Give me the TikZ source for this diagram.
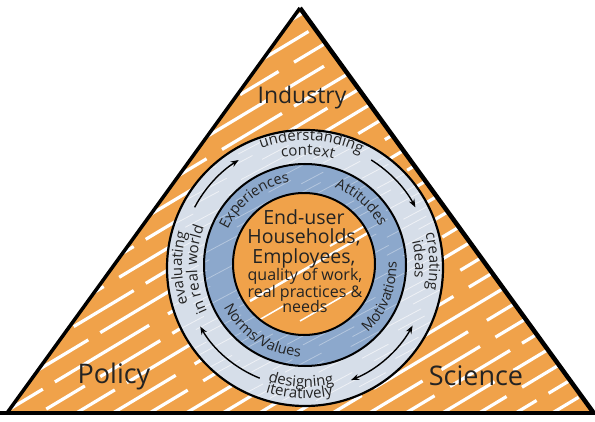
\documentclass[tikz,border=0pt]{standalone}
\usepackage{fontspec}
\setmainfont{Open Sans}
\usetikzlibrary{arrows.meta,decorations.text}
\definecolor{org}{RGB}{240,162,74}
\definecolor{lring}{RGB}{214,222,233}
\definecolor{bring}{RGB}{140,168,204}
\definecolor{txt}{RGB}{35,35,35}
\newcommand\rtf{\fontsize{15}{15}\selectfont\color{txt}}
\newcommand\btf{\fontsize{14.5}{15}\selectfont\color{txt}}
\newcommand\cwtext[5]{%
  \path[decorate,decoration={text along path,text={|#5|#4},text align=center}]
    (C) ++({#1+#3}:#2) arc[start angle={#1+#3},end angle={#1-#3},radius=#2];}
\newcommand\ccwtext[5]{%
  \path[decorate,decoration={text along path,text={|#5|#4},text align=center}]
    (C) ++({#1-#3}:#2) arc[start angle={#1-#3},end angle={#1+#3},radius=#2];}
\begin{document}
\begin{tikzpicture}[x=1pt,y=1pt,
  arr/.style={line width=1.4pt,-{Stealth[length=8pt,width=6pt]}},
  darr/.style={line width=1.4pt,{Stealth[length=8pt,width=6pt]}-{Stealth[length=8pt,width=6pt]}},
  big/.style={font=\fontsize{27}{27}\selectfont,text=txt,inner sep=0pt,anchor=base},
  ctr/.style={font=\fontsize{19.5}{20}\selectfont,text=txt,inner sep=0pt,anchor=base},
  ctrs/.style={font=\fontsize{16}{16}\selectfont,text=txt,inner sep=0pt,anchor=base}]
\useasboundingbox (0,0) rectangle (595,421);
\coordinate (C) at (305,155);
\coordinate (T) at (300,413);
\coordinate (L) at (7,8);
\coordinate (R) at (593,9);
% triangle
\fill[org] (T) -- (L) -- (R) -- cycle;
\begin{scope}
  \clip (T) -- (L) -- (R) -- cycle;
  \foreach \k in {-30,...,22} {
    \pgfmathsetmacro\ph{mod(abs(\k)*53,190)}
    \draw[white,line width=3.2pt,dash pattern=on 70pt off 14pt on 110pt off 22pt on 45pt off 18pt,dash phase=\ph pt]
      (-120,\k*22) -- ++(31:1000);
  }
\end{scope}
\draw[line width=3.5pt] (T) -- (L);
\draw[line width=4.5pt] (T) -- (R);
\draw[line width=4pt] (0,8) -- (595,8);
% labels
\node[big,font=\fontsize{23}{23}\selectfont] (ind) at (302,317) {Industry};
\node[big] (pol) at (114,38) {Policy};
\node[big] (sci) at (476,36) {Science};
% rings
\fill[lring] (305,153) circle[radius=138];
\begin{scope}
  \clip (305,153) circle[radius=138];
  \foreach \k in {-20,...,20} {
    \pgfmathsetmacro\ph{mod(abs(\k)*41,120)}
    \draw[white,opacity=0.6,line width=0.8pt,dash pattern=on 30pt off 25pt on 50pt off 40pt,dash phase=\ph pt]
      (150,\k*9+40) -- ++(28:400);
  }
\end{scope}
\fill[bring] (305,156) circle[radius=101];
\begin{scope}
  \clip (305,156) circle[radius=101];
  \foreach \k in {-14,...,14} {
    \pgfmathsetmacro\ph{mod(abs(\k)*37,110)}
    \draw[white,opacity=0.35,line width=0.8pt,dash pattern=on 25pt off 30pt on 40pt off 35pt,dash phase=\ph pt]
      (190,\k*9+70) -- ++(28:300);
  }
\end{scope}
\fill[org] (304,157) circle[radius=71];
\begin{scope}
  \clip (304,157) circle[radius=71];
  \draw[white,line width=2.5pt] (250,120) -- ++(30:160);
  \draw[white,line width=1.5pt] (300,100) -- ++(30:60);
  \draw[white,line width=2pt] (330,175) -- ++(30:60);
  \draw[white,line width=1.5pt] (240,90) -- ++(30:50);
\end{scope}
\draw[line width=2.2pt] (305,153) circle[radius=138];
\draw[line width=2pt] (305,156) circle[radius=101];
\draw[line width=2pt] (304,157) circle[radius=71];
% centre text
\node[ctr] (l1) at (304,196) {End-user};
\node[ctr] (l2) at (304,177.5) {Households,};
\node[ctr] (l3) at (304,157.5) {Employees,};
\node[ctrs] (l4) at (305,140) {quality of work,};
\node[ctrs] (l5) at (305,124) {real practices \&};
\node[ctrs] (l6) at (305,109) {needs};
% outer ring texts
\cwtext{87}{125.5}{55}{understanding}{\rtf}
\cwtext{88.5}{111}{40}{context}{\rtf}
\cwtext{2}{124.5}{40}{creating}{\rtf}
\cwtext{3.5}{110}{35}{ideas}{\rtf}
\cwtext{181}{123}{45}{evaluating}{\rtf}
\cwtext{182}{108}{50}{in real world}{\rtf}
\ccwtext{268}{121}{40}{designing}{\rtf}
\ccwtext{267.5}{132.5}{40}{iteratively}{\rtf}
% blue ring texts
\cwtext{127.5}{85.5}{50}{Experiences}{\btf}
\cwtext{48.5}{84}{45}{Attitudes}{\btf}
\ccwtext{-22}{91.5}{50}{Motivations}{\btf}
\ccwtext{237}{91}{50}{Norms/Values}{\btf}
% arrows
\draw[arr] (C) ++(152:125) arc[start angle=152,end angle=122,radius=125];
\draw[arr] (C) ++(58:125) arc[start angle=58,end angle=28,radius=125];
\draw[darr] (C) ++(-29:123) arc[start angle=-29,end angle=-68,radius=123];
\draw[arr] (C) ++(248:121) arc[start angle=248,end angle=210,radius=121];
\end{tikzpicture}
\end{document}
